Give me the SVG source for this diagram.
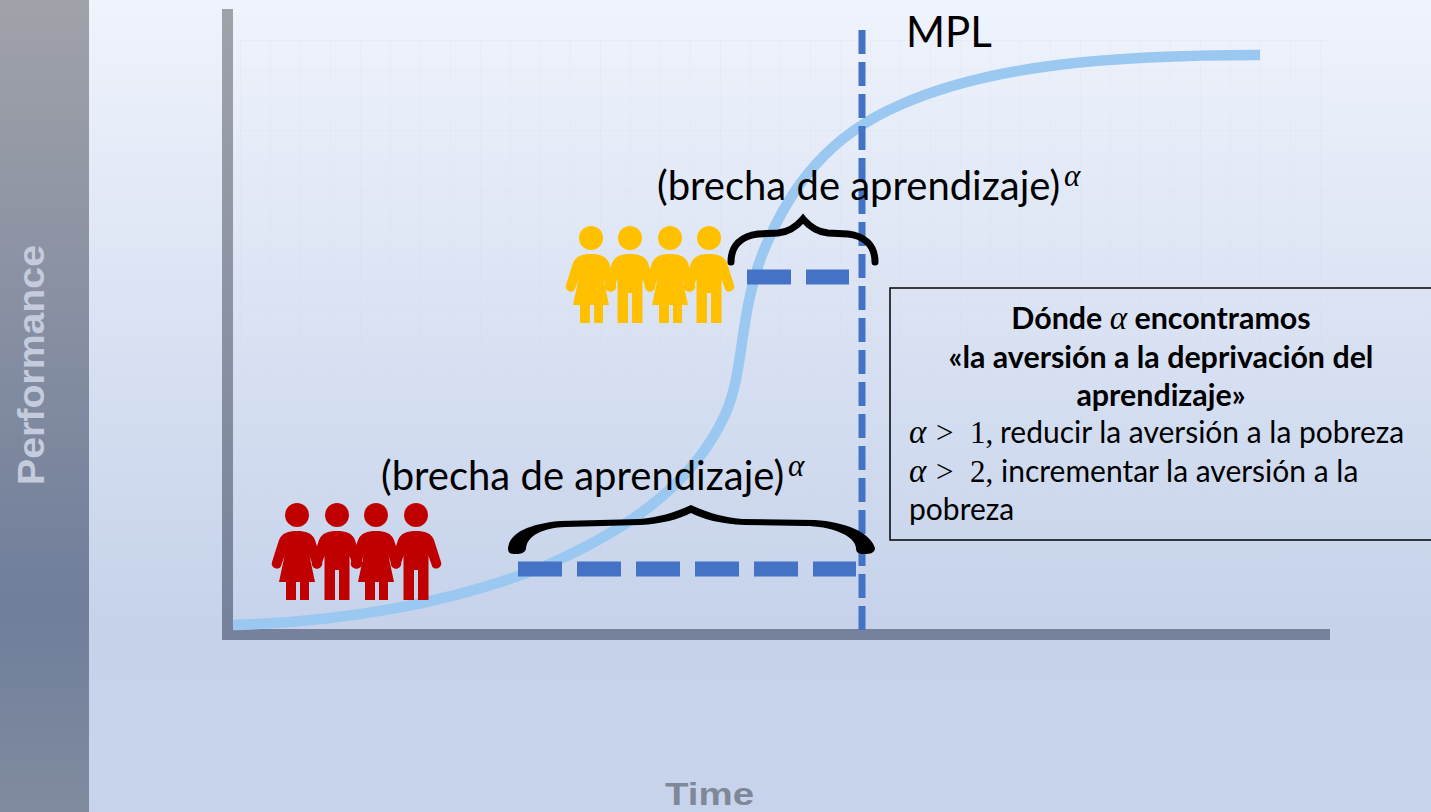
<svg xmlns="http://www.w3.org/2000/svg" width="1431" height="812" viewBox="0 0 1431 812">
<style>
.t{font-family:"Lato","Open Sans","Liberation Sans",sans-serif;fill:#000}
.m{font-family:"Liberation Serif","DejaVu Serif",serif;font-style:italic;fill:#000}
.r{font-family:"Liberation Serif","DejaVu Serif",serif;fill:#000}
.b{font-weight:700;text-anchor:middle;font-size:30.4px}
.n{font-size:30px}
.g{font-size:40px}
.dash{fill:none;stroke:#4472c4}
.brace{fill:none;stroke:#000;stroke-linecap:round}
.ax{font-family:"Liberation Sans",Arial,sans-serif;font-weight:700}
</style>
<defs>
<linearGradient id="bg" x1="0" y1="0" x2="0" y2="1"><stop offset="0" stop-color="#eff3fc"/><stop offset="0.78" stop-color="#c5d2ea"/><stop offset="0.92" stop-color="#c8d4eb"/><stop offset="1" stop-color="#c6d3ea"/></linearGradient>
<linearGradient id="side" x1="0" y1="0" x2="0" y2="1"><stop offset="0" stop-color="#a0a2a9"/><stop offset="0.75" stop-color="#707e9b"/><stop offset="1" stop-color="#808b9f"/></linearGradient>
<linearGradient id="axv" gradientUnits="userSpaceOnUse" x1="0" y1="9" x2="0" y2="640"><stop offset="0" stop-color="#a0a2a9"/><stop offset="1" stop-color="#74819c"/></linearGradient>
<pattern id="grid" width="30" height="30" patternUnits="userSpaceOnUse" x="240" y="40"><path d="M0,0H30M0,0V30" fill="none" stroke="#b9c6de" stroke-width="1" opacity="0.18"/></pattern>
<g id="woman"><circle cx="0" cy="0" r="12"/><path d="M0,16C9,16 15,18 18,25L25,47C27,53 18,56 16,51L12.5,41L18,67H12V85H3V67H-1V85H-11V67H-18L-12.5,41L-16,51C-18,56 -27,53 -25,47L-18,25C-15,18 -9,16 0,16Z"/></g>
<g id="man"><circle cx="0" cy="0" r="12"/><path d="M0,16C9,16 15,18 18,25L25,47C27,53 18,56 16,51L12.5,41V85H2V55H-2V85H-12.5V41L-16,51C-18,56 -27,53 -25,47L-18,25C-15,18 -9,16 0,16Z"/></g>
</defs>
<rect width="1431" height="812" fill="url(#bg)"/>
<rect width="89" height="812" fill="url(#side)"/>
<rect x="240" y="40" width="1090" height="590" fill="url(#grid)"/>
<rect id="yaxis" x="222" y="9" width="11" height="631" fill="url(#axv)"/>
<rect id="xaxis" x="222" y="629" width="1108" height="11" fill="#76829c"/>
<text class="ax" transform="translate(44,365) rotate(-90)" text-anchor="middle" font-size="36" textLength="240" lengthAdjust="spacingAndGlyphs" fill="#c3cbdc">Performance</text>
<text class="ax" x="665" y="805" font-size="32" textLength="89" lengthAdjust="spacingAndGlyphs" fill="#7f8898">Time</text>
<g id="connectors">
<path id="curve" d="M233,625C340,622 450,604 545,566C620,533 690,490 725,415C745,370 738,320 762,255C790,185 830,135 900,105C990,65 1110,55 1260,55" fill="none" stroke="#9ac8f0" stroke-width="10.5"/>
<path class="dash" d="M862,30V632" stroke-width="7" stroke-dasharray="24 8"/>
<path class="dash" d="M518,569H856" stroke-width="15" stroke-dasharray="44 15"/>
<path class="dash" d="M747,277H849" stroke-width="15" stroke-dasharray="44 15"/>
<path class="brace" d="M731,262C731,245 742,236 758,234L778,233C790,232 797,226 803,219C809,226 816,232 828,233L848,234C864,236 875,245 875,262" stroke-width="7"/>
<path id="brace-low" d="M508,548C510,532 530,524 560,521L640,519C662,517 678,511 691,505C704,511 720,517 742,519L815,520C845,522 870,532 875,548C875,553 870,554 864,554C858,554 856,552 856,548C855,535 830,526 805,526L745,525C720,524 703,519 691,513C679,519 662,524 640,525L565,527C545,528 528,534 526,548C526,553 520,554 516,554C510,554 508,553 508,548Z" fill="#000"/>
</g>
<g id="people-red" fill="#c00000">
<use href="#woman" x="297" y="515"/><use href="#man" x="337" y="515"/><use href="#woman" x="376" y="515"/><use href="#man" x="416" y="515"/>
</g>
<g id="people-yellow" fill="#ffc000">
<use href="#woman" x="591" y="238"/><use href="#man" x="630" y="238"/><use href="#woman" x="670" y="238"/><use href="#man" x="709" y="238"/>
</g>
<g id="label-mpl"><text class="t" x="906" y="47" font-size="42">MPL</text></g>
<g id="label-gap-top"><text class="t g" x="657" y="200">(brecha de aprendizaje)</text><text class="m" x="1064" y="186" font-size="31">α</text></g>
<g id="label-gap-bottom"><text class="t g" x="381" y="490">(brecha de aprendizaje)</text><text class="m" x="788" y="476" font-size="31">α</text></g>
<g id="note">
<rect x="890" y="288" width="550" height="252" fill="none" stroke="#000" stroke-width="1.5"/>
<text class="t b" x="1161" y="329">Dónde <tspan class="m" font-weight="400" font-size="33">α</tspan> encontramos</text>
<text class="t b" x="1161" y="368">«la aversión a la deprivación del</text>
<text class="t b" x="1161" y="406">aprendizaje»</text>
<text class="m" x="909" y="443" font-size="33">α</text><text class="r" x="936" y="443" font-size="31">&gt;</text><text class="r" x="970" y="443" font-size="31">1,</text><text class="t n" x="1000" y="443">reducir la aversión a la pobreza</text>
<text class="m" x="909" y="482" font-size="33">α</text><text class="r" x="936" y="482" font-size="31">&gt;</text><text class="r" x="970" y="482" font-size="31">2,</text><text class="t n" x="1001" y="482">incrementar la aversión a la</text>
<text class="t n" x="909" y="520">pobreza</text>
</g>
</svg>
